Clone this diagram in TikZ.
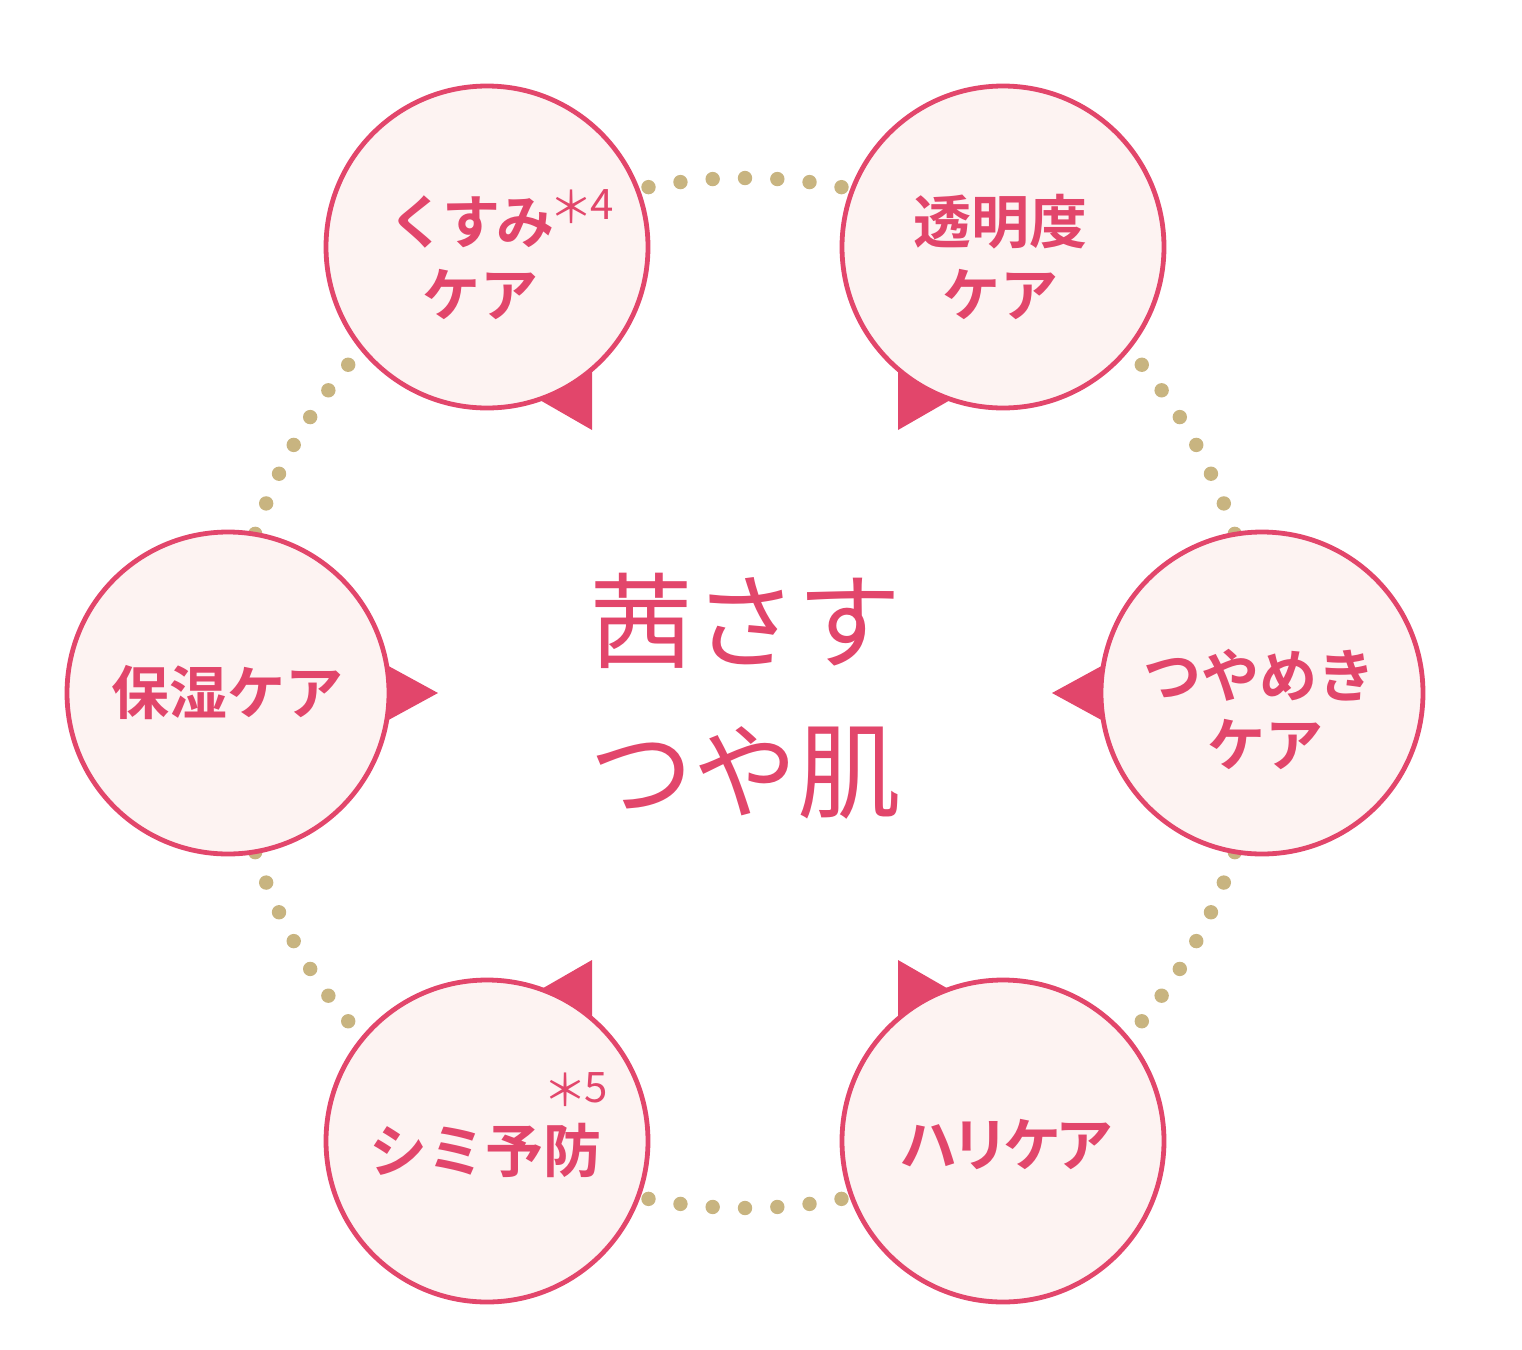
\documentclass[tikz,border=0pt]{standalone}
\usepackage{fontspec}
\usetikzlibrary{calc}
\newfontfamily\jp{Noto Sans CJK JP}
\newfontfamily\jpb{Noto Sans CJK JP Bold}
\definecolor{pk}{HTML}{E2466B}
\definecolor{pkfill}{HTML}{FDF3F2}
\definecolor{dot}{HTML}{C8B480}
\newcommand{\astnote}[1]{\raisebox{-2pt}{\fontsize{22}{22}\selectfont ＊}\kern-1.5pt#1}
\begin{document}
\begin{tikzpicture}[x=0.5pt,y=-0.5pt,
  circ/.style={circle,draw=pk,fill=pkfill,line width=2.4pt,minimum size=161pt,inner sep=0pt},
  ptr/.style={fill=pk,draw=none},
  lbl/.style={text=pk,font=\jpb\fontsize{29}{36}\selectfont,inner sep=0pt,anchor=center},
  sup/.style={text=pk,font=\jp\fontsize{21}{24}\selectfont,inner sep=0pt},
  title/.style={text=pk,font=\jp\fontsize{52}{75}\selectfont,inner sep=0pt,align=center}]
\useasboundingbox (0,0) rectangle (1522,1350);
% dotted ring
\coordinate (ctr) at (745,693);
\foreach \k in {0,...,99}{
  \fill[dot] ($(ctr)+({\k*3.6}:515 and -515)$) circle (3.6pt);
}
% pointers
\fill[ptr] (592,430) -- (592,340) -- (505,380) -- cycle;
\fill[ptr] (898,430) -- (898,340) -- (985,380) -- cycle;
\fill[ptr] (438,693) -- (350,645) -- (350,741) -- cycle;
\fill[ptr] (1052,693) -- (1140,645) -- (1140,741) -- cycle;
\fill[ptr] (592,960) -- (592,1050) -- (505,1010) -- cycle;
\fill[ptr] (898,960) -- (898,1050) -- (985,1010) -- cycle;
% circles
\node[circ] (c1) at (487,247) {};
\node[circ] (c2) at (1003,247) {};
\node[circ] (c3) at (228,693) {};
\node[circ] (c4) at (1262,693) {};
\node[circ] (c5) at (487,1141) {};
\node[circ] (c6) at (1003,1141) {};
% labels
\node[lbl] (t1a) at (471,222) {く\kern-2ptす\kern-2ptみ};
\node[sup,anchor=west] (t1s) at (549,207) {\astnote{4}};
\node[lbl] (t1b) at (480,295) {ケア};
\node[lbl] (t2a) at (1000,222) {透明度};
\node[lbl] (t2b) at (1000,295) {ケア};
\node[lbl] (t3) at (228,693) {保湿ケア};
\node[lbl] (t4a) at (1259,675) {つやめき};
\node[lbl] (t4b) at (1265,745) {ケア};
\node[lbl] (t5) at (485,1150) {シミ予防};
\node[sup,anchor=west] (t5s) at (543,1090) {\astnote{5}};
\node[lbl] (t6) at (1006,1145) {ハ\kern-3ptリ\kern-3ptケ\kern-3ptア};
\node[title] (main) at (745,696) {茜さす\\つや肌};
\end{tikzpicture}
\end{document}
